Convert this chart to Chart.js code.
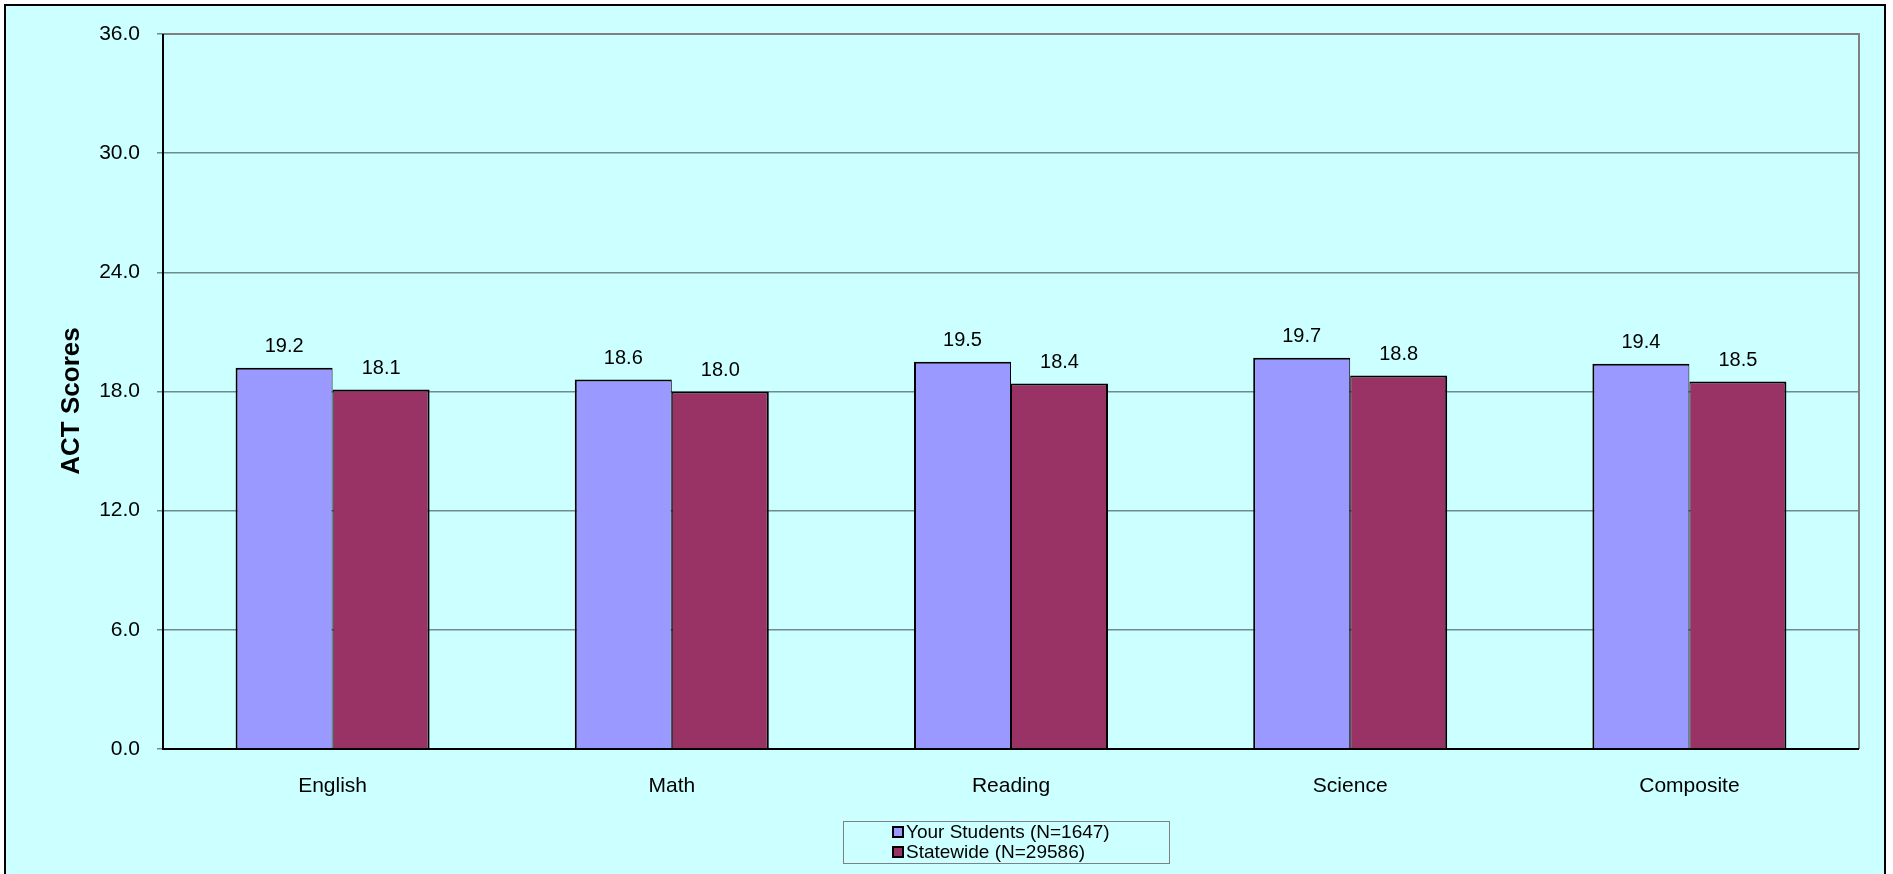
<!DOCTYPE html>
<html>
<head>
<meta charset="utf-8">
<script src="https://cdn.jsdelivr.net/npm/chart.js@4/dist/chart.umd.min.js"></script>
<style>
  html, body { margin: 0; padding: 0; background: #ffffff; }
  #wrap { width: 1893px; height: 874px; position: relative; }
</style>
</head>
<body>
<div id="wrap"><canvas id="c" width="1893" height="874"></canvas></div>
<script>
const categories = ["English", "Math", "Reading", "Science", "Composite"];
const yourStudents = [19.2, 18.6, 19.5, 19.7, 19.4];
const statewide = [18.1, 18.0, 18.4, 18.8, 18.5];
const seriesLabels = ["Your Students (N=1647)", "Statewide (N=29586)"];
const seriesColors = ["#9999FF", "#993366"];
const yAxisTitle = "ACT Scores";
const yMin = 0, yMax = 36, yStep = 6;

const FONT = "'Liberation Sans', Arial, Helvetica, sans-serif";

const frame = {
  id: 'frame',
  beforeDraw(chart) {
    const ctx = chart.ctx;
    ctx.save();
    ctx.fillStyle = '#ffffff';
    ctx.fillRect(0, 0, chart.width, chart.height);
    ctx.fillStyle = '#CCFFFF';
    ctx.fillRect(5, 5, 1880, chart.height + 10);
    ctx.strokeStyle = '#000000';
    ctx.lineWidth = 2;
    ctx.strokeRect(5, 5, 1880, chart.height + 10);
    ctx.restore();
  },
  afterDatasetsDraw(chart) {
    const ctx = chart.ctx;
    const a = chart.chartArea;
    ctx.save();
    // top & right gray frame
    ctx.strokeStyle = '#808080';
    ctx.lineWidth = 2;
    ctx.beginPath();
    ctx.moveTo(a.left, a.top);
    ctx.lineTo(a.right, a.top);
    ctx.lineTo(a.right, a.bottom);
    ctx.stroke();
    // left & bottom axis lines
    ctx.strokeStyle = '#000000';
    ctx.lineWidth = 2;
    ctx.beginPath();
    ctx.moveTo(a.left, a.top);
    ctx.lineTo(a.left, a.bottom);
    ctx.lineTo(a.right, a.bottom);
    ctx.stroke();
    // data labels
    ctx.fillStyle = '#000000';
    ctx.font = '20px ' + FONT;
    ctx.textAlign = 'center';
    ctx.textBaseline = 'alphabetic';
    chart.data.datasets.forEach((ds, i) => {
      const meta = chart.getDatasetMeta(i);
      meta.data.forEach((el, j) => {
        ctx.fillText(ds.data[j].toFixed(1), el.x, el.y - 16);
      });
    });
    // y axis title
    ctx.save();
    ctx.translate(72, 401);
    ctx.rotate(-Math.PI / 2);
    ctx.font = 'bold 26px ' + FONT;
    ctx.textAlign = 'center';
    ctx.textBaseline = 'middle';
    ctx.fillText(yAxisTitle, 0, 0);
    ctx.restore();
    // legend
    const bx = 843.5, by = 821.5, bw = 326, bh = 42;
    ctx.strokeStyle = '#808080';
    ctx.lineWidth = 1;
    ctx.strokeRect(bx, by, bw, bh);
    ctx.font = '19px ' + FONT;
    ctx.textAlign = 'left';
    ctx.textBaseline = 'middle';
    chart.data.datasets.forEach((ds, i) => {
      const cy = 832 + i * 20;
      ctx.fillStyle = ds.backgroundColor;
      ctx.fillRect(893, cy - 5, 10, 10);
      ctx.strokeStyle = '#000000';
      ctx.lineWidth = 2;
      ctx.strokeRect(893, cy - 5, 10, 10);
      ctx.fillStyle = '#000000';
      ctx.fillText(ds.label, 906, cy + 1);
    });
    ctx.restore();
  }
};

new Chart(document.getElementById('c'), {
  type: 'bar',
  data: {
    labels: categories,
    datasets: [
      { label: seriesLabels[0], data: yourStudents, backgroundColor: seriesColors[0],
        borderColor: '#000000', borderWidth: {top: 2, left: 2, right: 1, bottom: 0}, borderSkipped: false },
      { label: seriesLabels[1], data: statewide, backgroundColor: seriesColors[1],
        borderColor: '#000000', borderWidth: {top: 2, left: 1, right: 2, bottom: 0}, borderSkipped: false }
    ]
  },
  options: {
    responsive: false,
    animation: false,
    devicePixelRatio: 1,
    layout: { padding: { top: 34, right: 34, bottom: 0, left: 0 } },
    categoryPercentage: 0.572,
    barPercentage: 1.0,
    plugins: { legend: { display: false }, tooltip: { enabled: false } },
    scales: {
      x: {
        grid: { display: false },
        border: { display: false },
        ticks: { color: '#000000', font: { family: FONT, size: 21 }, padding: 17, maxRotation: 0 },
        afterFit(s) { s.height = 125; }
      },
      y: {
        min: yMin, max: yMax,
        grid: { color: '#6E8C8C', lineWidth: 1.5, drawTicks: true, tickLength: 6, tickColor: '#6E8C8C' },
        border: { display: false },
        ticks: { stepSize: yStep, color: '#000000', font: { family: FONT, size: 21 }, padding: 17,
                 callback: v => Number(v).toFixed(1) },
        afterFit(s) { s.width = 163; }
      }
    }
  },
  plugins: [frame]
});
</script>
</body>
</html>
